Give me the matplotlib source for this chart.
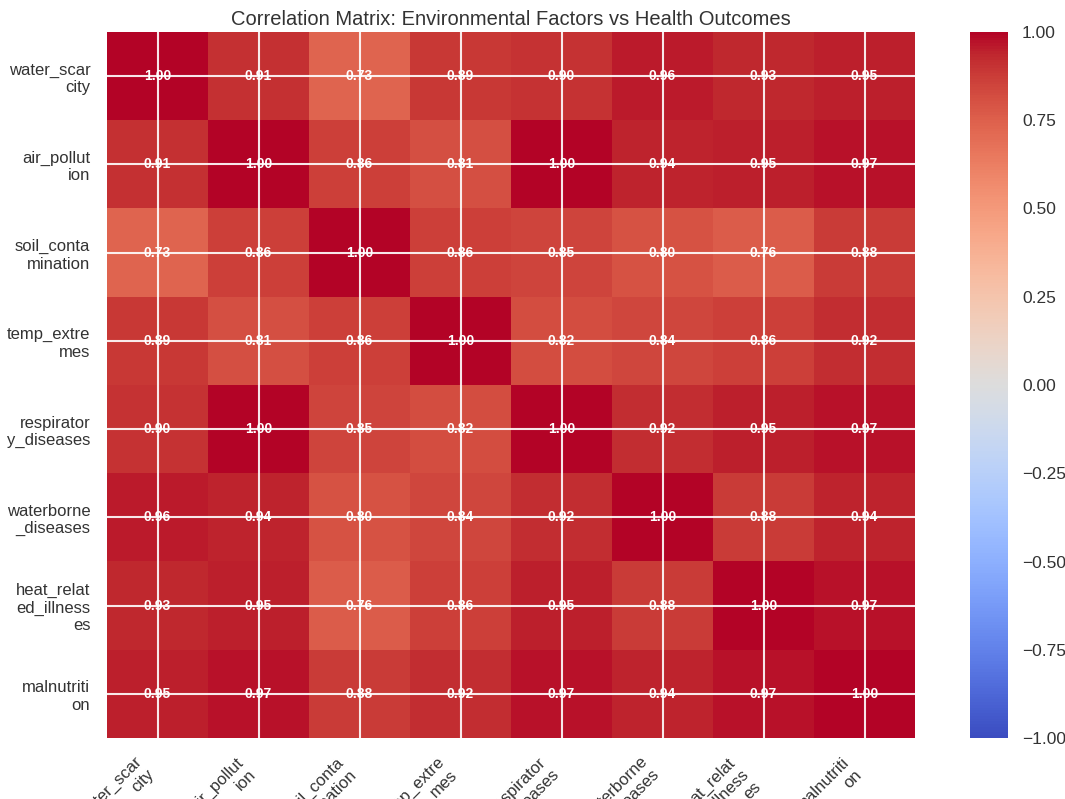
import textwrap

import numpy as np
import matplotlib
matplotlib.use("Agg")
import matplotlib.pyplot as plt

factors = [
    "water_scarcity",
    "air_pollution",
    "soil_contamination",
    "temp_extremes",
    "respiratory_diseases",
    "waterborne_diseases",
    "heat_related_illnesses",
    "malnutrition",
]

corr_rows = [
    [1.00, 0.91, 0.73, 0.89, 0.90, 0.96, 0.93, 0.95],
    [0.91, 1.00, 0.86, 0.81, 1.00, 0.94, 0.95, 0.97],
    [0.73, 0.86, 1.00, 0.86, 0.85, 0.80, 0.76, 0.88],
    [0.89, 0.81, 0.86, 1.00, 0.82, 0.84, 0.86, 0.92],
    [0.90, 1.00, 0.85, 0.82, 1.00, 0.92, 0.95, 0.97],
    [0.96, 0.94, 0.80, 0.84, 0.92, 1.00, 0.88, 0.94],
    [0.93, 0.95, 0.76, 0.86, 0.95, 0.88, 1.00, 0.97],
    [0.95, 0.97, 0.88, 0.92, 0.97, 0.94, 0.97, 1.00],
]

cbar_ticks = [-1.0, -0.75, -0.5, -0.25, 0.0, 0.25, 0.5, 0.75, 1.0]

plt.style.use("seaborn-v0_8-darkgrid")
plt.rcParams["font.family"] = ["Liberation Sans", "DejaVu Sans"]
plt.rcParams["text.color"] = "#333333"
plt.rcParams["xtick.color"] = "#333333"
plt.rcParams["ytick.color"] = "#333333"

corr = np.array(corr_rows)
labels = ["\n".join(textwrap.wrap(f, 10)) for f in factors]

fig = plt.figure(figsize=(10.65, 7.99), dpi=100)
W, H = 1065, 799
ax = fig.add_axes([107 / W, 1 - 738 / H, 808 / W, 706 / H])
cax = fig.add_axes([970 / W, 1 - 738 / H, 38 / W, 706 / H])

im = ax.imshow(corr, cmap="coolwarm", vmin=-1, vmax=1, aspect="auto")

n = len(factors)
ax.set_xticks(range(n))
ax.set_yticks(range(n))
ax.set_xticklabels(labels, rotation=45, ha="right", fontsize=12)
ax.set_yticklabels(labels, fontsize=12)
ax.tick_params(axis="both", length=0, pad=12)
ax.grid(True, color="white", linewidth=1.5, alpha=0.9)

for i in range(n):
    for j in range(n):
        ax.text(j, i, f"{corr[i, j]:.2f}", ha="center", va="center",
                color="white", fontsize=10, fontweight="bold")

ax.set_title("Correlation Matrix: Environmental Factors vs Health Outcomes",
             fontsize=14.5, pad=5)

cbar = fig.colorbar(im, cax=cax, ticks=cbar_ticks)
cbar.ax.set_yticklabels([f"{t:.2f}".replace("-", "\u2212") for t in cbar_ticks],
                        fontsize=12.5)
cbar.ax.tick_params(length=0, pad=10)
cbar.outline.set_visible(False)
cbar.ax.grid(False)

fig.savefig("out.png", dpi=100)
